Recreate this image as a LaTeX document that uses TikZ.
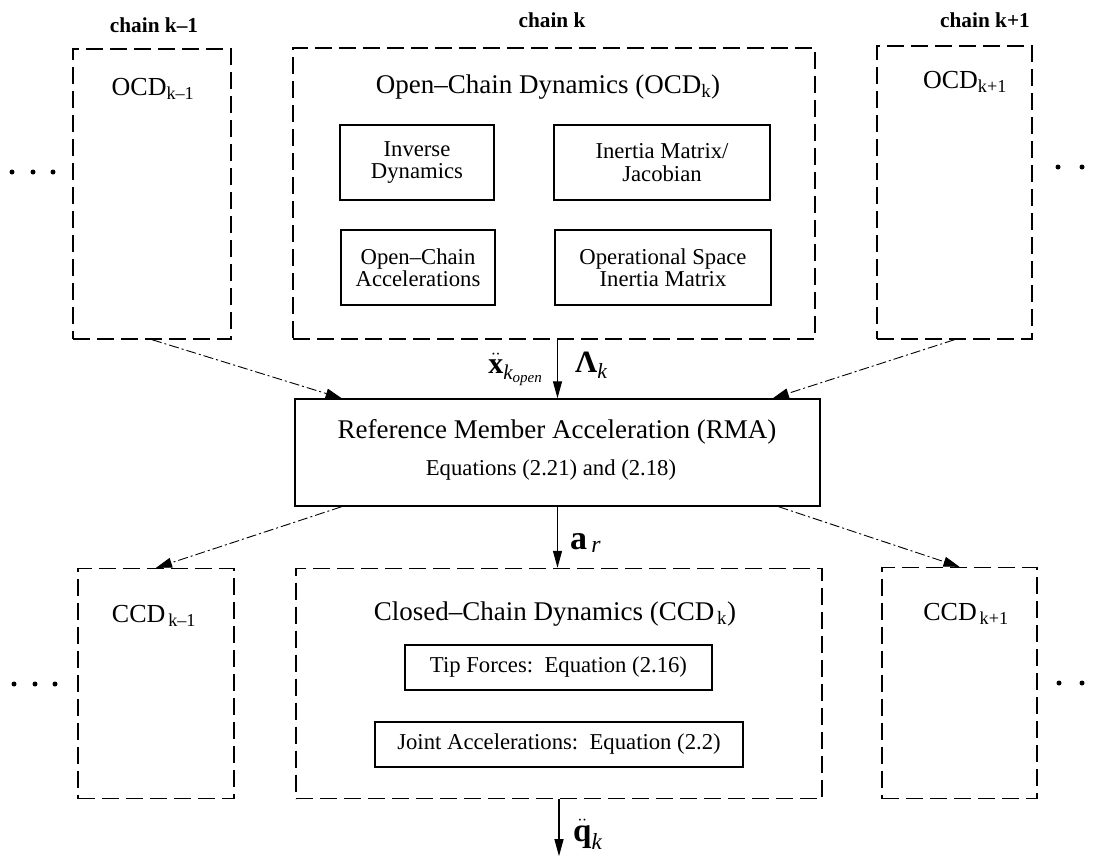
\documentclass[tikz,border=0pt]{standalone}
\usepackage{amsmath}
\usepackage{fontspec}
\setmainfont{Liberation Serif}
\usetikzlibrary{arrows.meta,calc}

\begin{document}
\begin{tikzpicture}[x=1pt,y=-1pt,
  chainbox/.style={draw, inner sep=0pt, line width=1.4pt, dash pattern=on 17pt off 7pt},
  subbox/.style={draw, inner sep=0pt, line width=1.3pt, align=center,
                 font=\fontsize{22.7}{22.5}\selectfont},
  mainbox/.style={draw, inner sep=0pt, line width=1.4pt},
  chainlbl/.style={font=\fontsize{21.3}{24}\selectfont\bfseries, inner sep=0pt},
  heading/.style={font=\fontsize{27}{30}\selectfont, inner sep=0pt, anchor=base},
  sidelbl/.style={font=\fontsize{26}{30}\selectfont, inner sep=0pt, anchor=base},
  eqlbl/.style={font=\fontsize{22.7}{26}\selectfont, inner sep=0pt, anchor=base},
  siglbl/.style={inner sep=0pt, anchor=base west},
  flow/.style={-{Triangle[length=17pt,width=9pt]}, line width=1.2pt},
  diag/.style={-{Triangle[length=16pt,width=10pt]}, line width=0.9pt,
               dash pattern=on 10pt off 3pt on 2pt off 3pt},
  dot/.style={circle, fill, inner sep=0pt, minimum size=5pt}
]
\useasboundingbox[fill=white] (0,0) rectangle (1095,857);

% chain labels
\node[chainlbl] (chL) at (154,25) {chain k--1};
\node[chainlbl] (chC) at (552,20) {chain k};
\node[chainlbl] (chR) at (985,20) {chain k+1};

% open-chain dynamics boxes
\node[chainbox, minimum width=158pt, minimum height=290pt] (ocdL) at (152,194) {};
\node[chainbox, minimum width=522pt, minimum height=291pt] (ocdC) at (554,193.5) {};
\node[chainbox, minimum width=155pt, minimum height=293pt] (ocdR) at (954.5,192.5) {};

\node[sidelbl] (ocdLt) at (153,95) {OCD$_{\text{k--1}}$};
\node[heading] (ocdCt) at (548,93) {Open--Chain Dynamics (OCD$_{\text{k}}$)};
\node[sidelbl] (ocdRt) at (965,88) {OCD$_{\text{k+1}}$};

\node[subbox, minimum width=154pt, minimum height=75pt] (invdyn) at (417,162.5) {Inverse\\Dynamics};
\node[subbox, minimum width=216pt, minimum height=75pt] (inertia) at (662,162.5) {Inertia Matrix/\\Jacobian};
\node[subbox, minimum width=154pt, minimum height=75pt] (ocacc) at (418,267.5) {Open--Chain\\Accelerations};
\node[subbox, minimum width=216pt, minimum height=75pt] (opspace) at (663,267.5) {Operational Space\\Inertia Matrix};

% reference member acceleration
\node[mainbox, minimum width=525pt, minimum height=107pt] (rma) at (557.5,452.5) {};
\node[heading] (rmat) at (557,438) {Reference Member Acceleration (RMA)};
\node[eqlbl] (rmaeq) at (551,475) {Equations (2.21) and (2.18)};

% closed-chain dynamics boxes
\node[chainbox, minimum width=156pt, minimum height=230pt] (ccdL) at (156,683.5) {};
\node[chainbox, minimum width=526pt, minimum height=230pt] (ccdC) at (559,683.5) {};
\node[chainbox, minimum width=155pt, minimum height=231pt] (ccdR) at (959.5,683) {};

\node[sidelbl] (ccdLt) at (154,622) {CCD$_{\,\text{k--1}}$};
\node[heading] (ccdCt) at (555,620) {Closed--Chain Dynamics (CCD$_{\,\text{k}}$)};
\node[sidelbl] (ccdRt) at (966,620) {CCD$_{\,\text{k+1}}$};

\node[subbox, minimum width=307pt, minimum height=45pt] (tip) at (558.5,667.5) {Tip Forces:\ \ Equation (2.16)};
\node[subbox, minimum width=368pt, minimum height=45pt] (joint) at (559,744.5) {Joint Accelerations:\ \ Equation (2.2)};

% continuation dots
\node[dot] (d1) at (12,172) {};
\node[dot] (d2) at (33,172) {};
\node[dot] (d3) at (53,172) {};
\node[dot] (d4) at (1058,167) {};
\node[dot] (d5) at (1082,167) {};
\node[dot] (d6) at (14,684) {};
\node[dot] (d7) at (35,684) {};
\node[dot] (d8) at (55,684) {};
\node[dot] (d9) at (1059,683) {};
\node[dot] (d10) at (1082,683) {};

% signals between the stages
\draw[flow] (rma.north |- ocdC.south) -- (rma.north);
\node[siglbl, anchor=base east, font=\fontsize{30}{32}\selectfont] (xlbl) at (543,373)
  {$\ddot{\text{\bfseries x}}_{\text{\itshape k}_{\text{\itshape open}}}$};
\node[siglbl, font=\fontsize{31}{33}\selectfont] (llbl) at (575,372) {$\text{\bfseries Λ}_{\text{\itshape k}}$};

\draw[flow] (rma.south) -- (rma.south |- ccdC.north);
\node[siglbl, font=\fontsize{34}{36}\selectfont] (albl) at (570,549) {$\text{\bfseries a}_{\,\text{\itshape r}}$};

\coordinate (qout) at ($(ccdC.south)+(0,57)$);
\draw[flow] (ccdC.south) -- (qout);
\node[siglbl, font=\fontsize{33}{35}\selectfont] (qlbl) at (573,841) {$\ddot{\text{\bfseries q}}_{\text{\itshape k}}$};

% neighbouring chains
\draw[diag] (ocdL.south) -- ($(rma.north west)!0.09!(rma.north east)$);
\draw[diag] (ocdR.south) -- ($(rma.north west)!0.909!(rma.north east)$);
\draw[diag] ($(rma.south west)!0.09!(rma.south east)$) -- (ccdL.north);
\draw[diag] ($(rma.south west)!0.92!(rma.south east)$) -- (ccdR.north);
\end{tikzpicture}
\end{document}
